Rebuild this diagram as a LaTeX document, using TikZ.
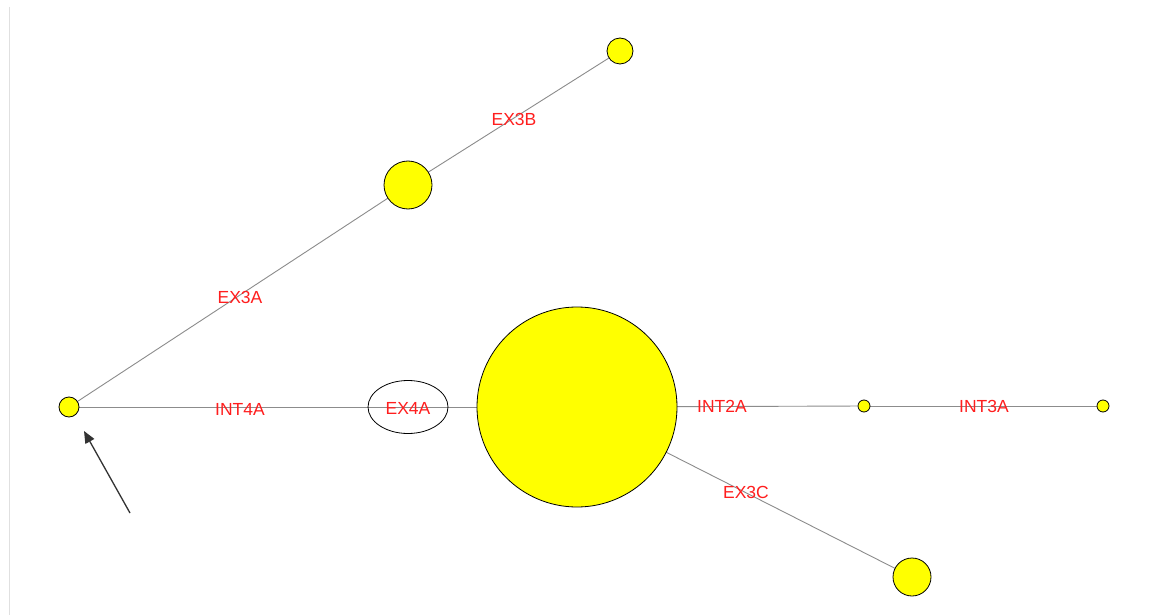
\documentclass[tikz,border=0pt]{standalone}
\usepackage{fontspec}
\setmainfont{Liberation Sans}
\usetikzlibrary{shapes.geometric,arrows.meta}
\definecolor{nodeyellow}{RGB}{255,255,0}
\definecolor{edgegray}{RGB}{140,140,140}
\definecolor{lblred}{RGB}{255,30,30}
\tikzset{
  vert/.style={circle,draw=black,fill=nodeyellow,line width=0.8pt,inner sep=0pt},
  edge/.style={draw=edgegray,line width=0.9pt},
  lbl/.style={text=lblred,font=\fontsize{17.5}{17.5}\selectfont,inner sep=0pt}
}
\begin{document}
\begin{tikzpicture}[x=1pt,y=-1pt]
\useasboundingbox (0,0) rectangle (1168,615);
\fill[white] (0,0) rectangle (1168,615);
\draw[line width=1pt,draw=black!12] (9.5,7) -- (9.5,615);
% coordinates
\coordinate (pA) at (69,407);
\coordinate (pB) at (408,185);
\coordinate (pC) at (620,51);
\coordinate (pD) at (577,407);
\coordinate (pE) at (864,406);
\coordinate (pF) at (1103,406);
\coordinate (pG) at (912,577);
% edges
\draw[edge] (pA) -- (pB);
\draw[edge] (pB) -- (pC);
\draw[edge] (pA) -- (pD);
\draw[edge] (pD) -- (pE);
\draw[edge] (pE) -- (pF);
\draw[edge] (pD) -- (pG);
% vertices
\node[vert,minimum size=20pt] (A) at (pA) {};
\node[vert,minimum size=48pt] (B) at (pB) {};
\node[vert,minimum size=26pt] (C) at (pC) {};
\node[vert,minimum size=200pt] (D) at (pD) {};
\node[vert,minimum size=12pt] (E) at (pE) {};
\node[vert,minimum size=12pt] (F) at (pF) {};
\node[vert,minimum size=38pt] (G) at (pG) {};
\node[ellipse,draw=black,line width=0.8pt,minimum width=80pt,minimum height=53pt,inner sep=0pt] (X) at (408,407) {};
% labels
\node[lbl] (l1) at (514,119) {EX3B};
\node[lbl] (l2) at (240,297) {EX3A};
\node[lbl] (l3) at (240,409) {INT4A};
\node[lbl] (l4) at (408,408) {EX4A};
\node[lbl] (l5) at (722,406) {INT2A};
\node[lbl] (l6) at (984,406) {INT3A};
\node[lbl] (l7) at (746,492) {EX3C};
% arrow
\coordinate (as) at (130,513);
\coordinate (ae) at (84,431);
\draw[line width=1.3pt,draw=black!80,-{Triangle[length=12pt,width=10pt]}] (as) -- (ae);
\end{tikzpicture}
\end{document}
